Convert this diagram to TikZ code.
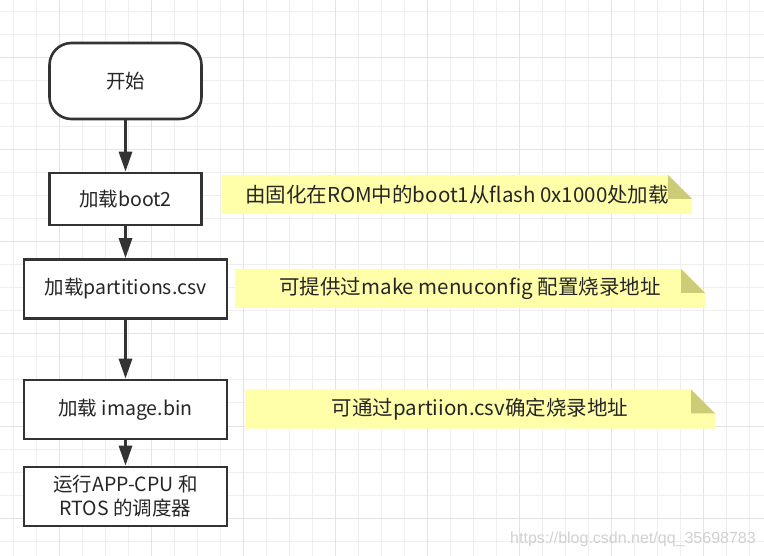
\documentclass[tikz,border=0pt]{standalone}
\usepackage{fontspec}
\setmainfont{Noto Sans CJK SC}
\newfontfamily\wmfont{Liberation Sans}
\usetikzlibrary{arrows.meta}
\definecolor{gridminor}{HTML}{EEEEEE}
\definecolor{gridmajor}{HTML}{E3E3E3}
\definecolor{linegray}{HTML}{333333}
\definecolor{textgray}{HTML}{262626}
\definecolor{noteyellow}{HTML}{FFFFAA}
\definecolor{notefold}{HTML}{CCCC77}
\begin{document}
\begin{tikzpicture}[
  x=1pt, y=-1pt,
  terminal/.style={draw=linegray, line width=2.6pt, rounded corners=22pt, fill=white, minimum width=152pt, minimum height=76pt, text=textgray, font=\fontsize{19.5}{24}\selectfont},
  procbox/.style={draw=linegray, line width=2.6pt, fill=white, minimum width=203pt, minimum height=59pt, inner sep=0pt, align=center, text=textgray, font=\fontsize{19.5}{24}\selectfont},
  notebox/.style={minimum width=470pt, minimum height=39pt, inner sep=0pt, text=textgray, font=\fontsize{20.5}{24}\selectfont,
    path picture={
      \fill[noteyellow] (path picture bounding box.south west) -- (path picture bounding box.north west)
        -- ([xshift=-24pt]path picture bounding box.north east) -- ([yshift=-24pt]path picture bounding box.north east)
        -- (path picture bounding box.south east) -- cycle;
      \fill[notefold] ([xshift=-24pt]path picture bounding box.north east) -- ([xshift=-24pt,yshift=-24pt]path picture bounding box.north east)
        -- ([yshift=-24pt]path picture bounding box.north east) -- cycle;
    }},
  flow/.style={draw=linegray, line width=3pt, -{Triangle[width=13pt,length=20pt]}},
]
  \useasboundingbox (0,0) rectangle (764,556);
  \foreach \k in {0,...,32}
    \draw[gridminor, line width=1pt] (13.6+23*\k,0) -- (13.6+23*\k,556);
  \foreach \k in {0,...,23}
    \draw[gridminor, line width=1pt] (0,12+23*\k) -- (764,12+23*\k);
  \foreach \k in {0,...,7}
    \draw[gridmajor, line width=1pt] (59.6+92*\k,0) -- (59.6+92*\k,556);
  \foreach \k in {0,...,5}
    \draw[gridmajor, line width=1pt] (0,58+92*\k) -- (764,58+92*\k);

  \node[terminal] (start) at (125.5,81) {开始};
  \node[procbox, minimum width=152pt, minimum height=52pt] (boot) at (125.5,199) {加载boot2};
  \node[procbox] (part) at (125.5,289) {加载partitions.csv};
  \node[procbox] (image) at (125.5,409.5) {加载 image.bin};
  \node[procbox] (run) at (125.5,496.5) {运行APP-CPU 和\\RTOS 的调度器};

  \node[notebox] (noteboot) at (457,194.5) {由固化在ROM中的boot1从flash 0x1000处加载};
  \node[notebox] (notepart) at (470,288.5) {可提供过make menuconfig 配置烧录地址};
  \node[notebox] (noteimage) at (480,409) {可通过partiion.csv确定烧录地址};

  \draw[flow] (start) -- (boot);
  \draw[flow] (boot) -- (part);
  \draw[flow] (part) -- (image);
  \draw[flow] (image) -- (run);

  \node[text=black!18, font=\wmfont\fontsize{16}{18}\selectfont] (mark) at (633,539) {https://blog.csdn.net/qq\_35698783};
\end{tikzpicture}
\end{document}
